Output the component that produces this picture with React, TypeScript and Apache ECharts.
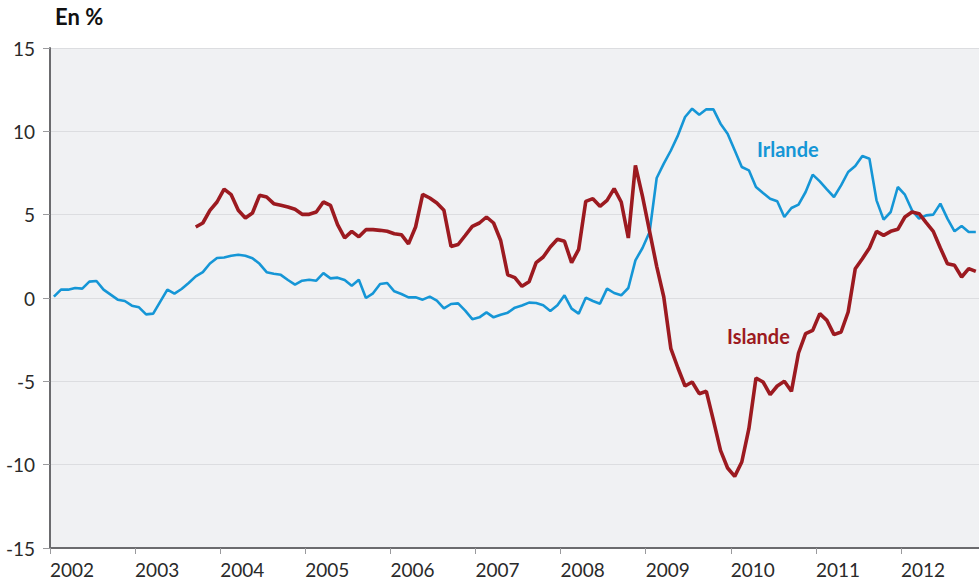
import React, { useEffect, useRef } from "react";
import * as echarts from "echarts";

const startYear = 2002;
const yTicks = [-15, -10, -5, 0, 5, 10, 15];

const irlande: number[] = [
  0.08, 0.5, 0.5, 0.6, 0.56, 0.98, 1.02, 0.5, 0.2, -0.1, -0.18, -0.46,
  -0.56, -0.98, -0.94, -0.22, 0.5, 0.26, 0.54, 0.9, 1.3, 1.55, 2.07, 2.4,
  2.43, 2.53, 2.59, 2.53, 2.39, 2.05, 1.55, 1.45, 1.39, 1.08, 0.8, 1.04,
  1.1, 1.04, 1.49, 1.18, 1.22, 1.08, 0.74, 1.1, 0.0, 0.28, 0.84, 0.9,
  0.4, 0.24, 0.04, 0.04, -0.1, 0.08, -0.16, -0.62, -0.36, -0.32, -0.76, -1.27,
  -1.16, -0.86, -1.16, -1.0, -0.88, -0.58, -0.45, -0.28, -0.3, -0.44, -0.78, -0.44,
  0.16, -0.64, -0.94, 0.02, -0.18, -0.34, 0.56, 0.3, 0.16, 0.6, 2.26, 3.0,
  3.96, 7.2, 8.06, 8.85, 9.76, 10.86, 11.36, 11.0, 11.32, 11.32, 10.46, 9.86,
  8.86, 7.86, 7.66, 6.66, 6.3, 5.96, 5.8, 4.86, 5.4, 5.6, 6.36, 7.4,
  7.0, 6.52, 6.06, 6.76, 7.56, 7.92, 8.52, 8.36, 5.86, 4.7, 5.16, 6.66,
  6.2, 5.26, 4.76, 4.96, 5.0, 5.66, 4.76, 4.0, 4.32, 3.96, 3.96,
];

const islandeStart = 20; // first month with data (Sept 2003)
const islande: number[] = [
  4.26, 4.5, 5.26, 5.76,
  6.53, 6.2, 5.26, 4.8, 5.1, 6.16, 6.06, 5.66, 5.56, 5.46, 5.32, 5.02,
  5.02, 5.16, 5.76, 5.56, 4.4, 3.61, 4.0, 3.67, 4.1, 4.1, 4.06, 4.0,
  3.86, 3.8, 3.25, 4.26, 6.22, 6.0, 5.7, 5.26, 3.09, 3.21, 3.75, 4.3,
  4.5, 4.86, 4.5, 3.45, 1.39, 1.22, 0.7, 0.97, 2.12, 2.46, 3.06, 3.52,
  3.4, 2.12, 2.92, 5.8, 5.96, 5.5, 5.86, 6.56, 5.76, 3.6, 7.96, 6.1,
  4.0, 1.9, 0.06, -3.04, -4.2, -5.28, -5.04, -5.74, -5.6, -7.34, -9.14, -10.2,
  -10.7, -9.84, -7.84, -4.8, -5.04, -5.8, -5.28, -5.0, -5.6, -3.3, -2.14, -1.94,
  -0.94, -1.34, -2.2, -2.04, -0.84, 1.76, 2.36, 3.0, 4.0, 3.76, 4.0, 4.12,
  4.86, 5.16, 5.06, 4.52, 4.0, 3.0, 2.06, 1.96, 1.26, 1.76, 1.6,
];

const FONT = "Lato, 'Open Sans', sans-serif";

export default function App() {
  const ref = useRef<HTMLDivElement>(null);
  useEffect(() => {
    if (!ref.current) return;
    const chart = echarts.init(ref.current, undefined, { renderer: "svg" });
    const irlData = irlande.map((v, i) => [i + 0.55, v]);
    const islData = islande.map((v, i) => [i + islandeStart + 0.55, v]);
    chart.setOption({
      animation: false,
      textStyle: { fontFamily: FONT },
      grid: {
        left: 50,
        right: 0,
        top: 48,
        bottom: 34,
        show: true,
        backgroundColor: "#f0f1f3",
        borderWidth: 0,
      },
      xAxis: {
        type: "value",
        min: 0,
        max: 131,
        interval: 12,
        axisLine: { show: true, onZero: false, lineStyle: { color: "#6b6b6e", width: 2 } },
        axisTick: { show: true, length: 6, lineStyle: { color: "#9a9a9d", width: 1 } },
        splitLine: { show: false },
        axisLabel: {
          show: true,
          showMaxLabel: false,
          align: "left",
          margin: 12,
          color: "#2a2a2a",
          fontSize: 19,
          fontFamily: FONT,
          formatter: (v: number) => String(startYear + Math.round(v / 12)),
        },
      },
      yAxis: {
        type: "value",
        min: yTicks[0],
        max: yTicks[yTicks.length - 1],
        interval: 5,
        axisLine: { show: true, onZero: false, lineStyle: { color: "#6b6b6e", width: 2 } },
        axisTick: { show: true, length: 7, lineStyle: { color: "#9a9a9d", width: 1 } },
        splitLine: { show: true, lineStyle: { color: "#dcdde0", width: 1 } },
        axisLabel: {
          margin: 15,
          color: "#2a2a2a",
          fontSize: 19,
          fontFamily: FONT,
        },
      },
      series: [
        {
          name: "Irlande",
          type: "line",
          data: irlData,
          showSymbol: false,
          symbol: "none",
          lineStyle: { color: "#1596d6", width: 2.6 },
          z: 2,
        },
        {
          name: "Islande",
          type: "line",
          data: islData,
          showSymbol: false,
          symbol: "none",
          lineStyle: { color: "#9c1a20", width: 3.6 },
          z: 3,
        },
      ],
      graphic: [
        {
          type: "text",
          left: 55,
          top: 5,
          style: { text: "En %", fontSize: 22, fontWeight: "bold", fill: "#111", fontFamily: FONT },
        },
        {
          type: "text",
          left: 757,
          top: 139,
          z: 10,
          style: { text: "Irlande", fontSize: 20, fontWeight: "bold", fill: "#1596d6", fontFamily: FONT },
        },
        {
          type: "text",
          left: 727,
          top: 326,
          z: 10,
          style: { text: "Islande", fontSize: 20, fontWeight: "bold", fill: "#9c1a20", fontFamily: FONT },
        },
      ],
    });
    return () => chart.dispose();
  }, []);
  return (
    <div
      ref={ref}
      style={{ position: "fixed", left: 0, top: 0, width: 979, height: 582, background: "#fff" }}
    />
  );
}
